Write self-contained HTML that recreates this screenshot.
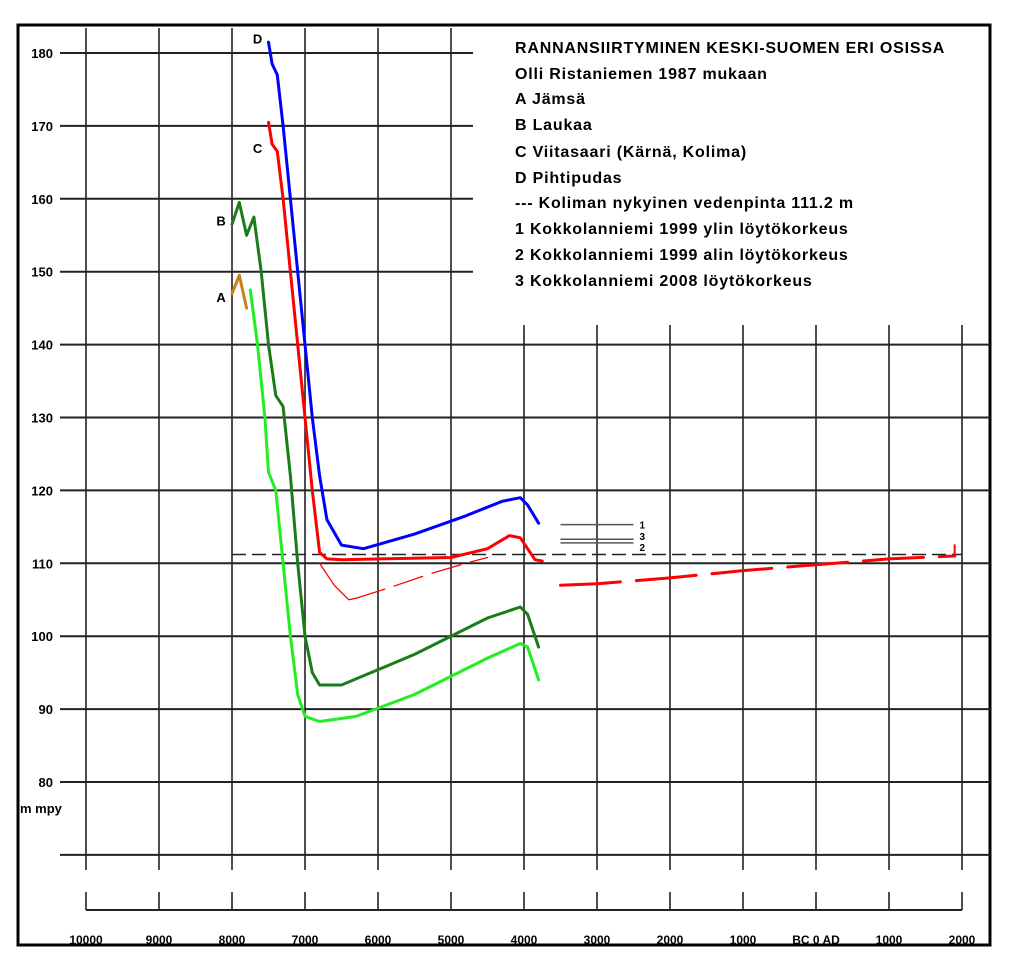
<!DOCTYPE html>
<html><head><meta charset="utf-8"><style>
body{margin:0;background:#fff}
svg{display:block;font-family:"Liberation Sans",sans-serif;font-weight:bold}
</style></head><body>
<svg width="1022" height="973" viewBox="0 0 1022 973" xmlns="http://www.w3.org/2000/svg">
<rect x="18" y="25" width="972" height="920" fill="none" stroke="#000" stroke-width="3"/>
<g id="grid"></g>
<g id="series"></g>
<g id="legend" font-size="16" letter-spacing="0.8" fill="#000">
<text x="515" y="53">RANNANSIIRTYMINEN KESKI-SUOMEN ERI OSISSA</text>
<text x="515" y="79">Olli Ristaniemen 1987 mukaan</text>
<text x="515" y="104">A  Jämsä</text>
<text x="515" y="130">B  Laukaa</text>
<text x="515" y="157">C  Viitasaari (Kärnä, Kolima)</text>
<text x="515" y="183">D  Pihtipudas</text>
<text x="515" y="208">---  Koliman nykyinen vedenpinta 111.2 m</text>
<text x="515" y="234">1  Kokkolanniemi 1999 ylin löytökorkeus</text>
<text x="515" y="260">2  Kokkolanniemi 1999 alin löytökorkeus</text>
<text x="515" y="286">3  Kokkolanniemi 2008 löytökorkeus</text>
</g>
<script>
const yTicks=[180,170,160,150,140,130,120,110,100,90,80,70];
const xTicks=[10000,9000,8000,7000,6000,5000,4000,3000,2000,1000,0,-1000,-2000];
const xTickLabels=["10000","9000","8000","7000","6000","5000","4000","3000","2000","1000","BC 0 AD","1000","2000"];
const waterLevel=111.2;
const dX=[7500,7450,7380,7300,7200,7100,7000,6900,6800,6700,6500,6200,5500,4800,4300,4050,3950,3800];
const dY=[181.5,178.5,177,170,160,150,140,130,122,116,112.5,112,114,116.5,118.5,119,118,115.5];
const cX=[7500,7450,7380,7300,7200,7100,7000,6900,6800,6700,6500,5000,4500,4200,4050,3950,3850,3750];
const cY=[170.5,167.5,166.5,160,150,140,130,120,111.5,110.6,110.5,110.8,112,113.8,113.5,112,110.5,110.3];
const cBranchX=[6800,6600,6400,6300];
const cBranchY=[110,107,105,105.2];
const cBranchDashX=[6300,5800,5300,4800,4500];
const cBranchDashY=[105.2,106.8,108.5,110,110.8];
const cLateX=[3500,3000,2000,1000,0,-1000,-1900];
const cLateY=[107,107.2,108,109,109.8,110.6,111];
const bX=[8000,7900,7800,7700,7600,7500,7400,7300,7200,7100,7000,6900,6800,6500,5500,4500,4050,3950,3800];
const bY=[156.5,159.5,155,157.5,150,140,133,131.5,122,110,100,95,93.3,93.3,97.5,102.5,104,103,98.5];
const lX=[7750,7650,7550,7500,7400,7300,7200,7100,7000,6800,6300,5500,4500,4050,3950,3800];
const lY=[147.5,140,130,122.5,120,110,100,92,89,88.3,89,92,97,99,98.5,94];
const aX=[8000,7900,7800];
const aY=[147,149.5,145];
const findX=[3500,2500];
const findY=[115.3,112.8,113.3];
const findLabels=["1","2","3"];
const sx=v=>86+(10000-v)*0.073;
const sy=v=>53+(180-v)*7.29;
const NS="http://www.w3.org/2000/svg";
const grid=document.getElementById('grid'),ser=document.getElementById('series');
function el(p,tag,at){const e=document.createElementNS(NS,tag);for(const k in at)e.setAttribute(k,at[k]);p.appendChild(e);return e;}
yTicks.forEach(v=>{
  const x2=v>=150?473:990;
  const l=el(grid,'line',{x1:60,x2:x2,y1:sy(v),y2:sy(v),stroke:'#222','stroke-width':2});
  
  
  if(v>=80){const t=el(grid,'text',{x:53,y:sy(v)+5,'text-anchor':'end','font-size':13});t.textContent=v;
  
  }
});
const ut=el(grid,'text',{x:20,y:813,'font-size':13});ut.textContent='m mpy';


xTicks.forEach((v,i)=>{
  const x=sx(v);
  const l=el(grid,'line',{x1:x,x2:x,y1:v>4000?28:325,y2:870,stroke:'#222','stroke-width':1.6});
  
  
  const tk=el(grid,'line',{x1:x,x2:x,y1:892,y2:910,stroke:'#222','stroke-width':1.6});
  
  
  const t=el(grid,'text',{x:x,y:944,'text-anchor':'middle','font-size':12});t.textContent=xTickLabels[i];
  
  
});
const ax=el(grid,'line',{x1:sx(10000),x2:sx(-2000),y1:910,y2:910,stroke:'#222','stroke-width':2});


const wl=el(grid,'line',{x1:sx(8000),x2:sx(-2000),y1:sy(waterLevel),y2:sy(waterLevel),stroke:'#222','stroke-width':1.5,'stroke-dasharray':'14,6'});


function path(xs,ys,color,w,name,dash){
  const d=xs.map((x,i)=>(i?'L':'M')+sx(x).toFixed(1)+','+sy(ys[i]).toFixed(1)).join('');
  const p=el(ser,'path',{d:d,fill:'none',stroke:color,'stroke-width':w,'stroke-linejoin':'round','stroke-linecap':'round'});
  if(dash)p.setAttribute('stroke-dasharray',dash);
  
  
}
path(lX,lY,'#22ee22',3,'series-light-green');
path(bX,bY,'#1a7d1a',3,'series-b-laukaa');
path(aX,aY,'#c8801a',3,'series-a-jamsa');
path(cX,cY,'#ff0000',3,'series-c-viitasaari');
path(cBranchX,cBranchY,'#ff0000',1.3,'series-c-branch');
path(cBranchDashX,cBranchDashY,'#ff0000',1.3,'series-c-branch-dashed','30,10');
path(cLateX,cLateY,'#ff0000',3,'series-c-late','60,16');
path(dX,dY,'#0000ff',3,'series-d-pihtipudas');
const rt=el(ser,'line',{x1:sx(-1900),x2:sx(-1900),y1:sy(110.8),y2:sy(112.6),stroke:'#f00','stroke-width':2});


findY.forEach((v,i)=>{
  const l=el(ser,'line',{x1:sx(findX[0]),x2:sx(findX[1]),y1:sy(v),y2:sy(v),stroke:'#555','stroke-width':1.5});
  
  
});
[['1',115.3,0],['3',113.3,-3],['2',112.8,4]].forEach(a=>{
  const t=el(ser,'text',{x:sx(findX[1])+6,y:sy(a[1])+4+a[2],'font-size':10});t.textContent=a[0];
  
  
});
[['D',7650,182],['C',7650,167],['B',8150,157],['A',8150,146.5]].forEach(a=>{
  const t=el(ser,'text',{x:sx(a[1]),y:sy(a[2])+5,'font-size':13,'text-anchor':'middle'});t.textContent=a[0];
  
  
});
</script>
</svg>
</body></html>
